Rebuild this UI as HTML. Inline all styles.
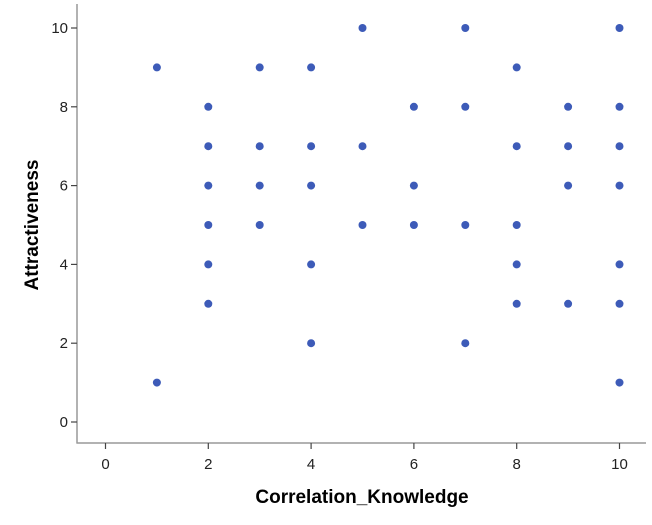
<!DOCTYPE html>
<html><head><meta charset="utf-8"><style>
body{margin:0;background:#fff;}
svg text{font-family:"Liberation Sans",sans-serif;}
</style></head><body>
<svg id="chart" width="652" height="520">
<g id="axes"></g><g id="pts"></g>
<text x="362" y="503" text-anchor="middle" font-size="19" font-weight="bold" fill="#000">Correlation_Knowledge</text>
<text transform="translate(38,225) rotate(-90)" text-anchor="middle" font-size="19" font-weight="bold" fill="#000">Attractiveness</text>
</svg>
<script>
const xValues=[1,1,2,2,2,2,2,2,3,3,3,3,4,4,4,4,4,5,5,5,6,6,6,7,7,7,7,8,8,8,8,8,9,9,9,9,10,10,10,10,10,10,10];
const yValues=[9,1,8,7,6,5,4,3,9,7,6,5,9,7,6,4,2,10,7,5,8,6,5,10,8,5,2,9,7,5,4,3,8,7,6,3,10,8,7,6,4,3,1];
const xTicks=[0,2,4,6,8,10];
const yTicks=[0,2,4,6,8,10];
const NS="http://www.w3.org/2000/svg";
const sx=v=>105.5+v*51.4;
const sy=v=>422-v*39.4;
const ax=document.getElementById('axes'),pg=document.getElementById('pts');
function mk(t,a,p){const e=document.createElementNS(NS,t);for(const k in a)e.setAttribute(k,a[k]);p.appendChild(e);return e;}
let l=mk('line',{x1:77,y1:4,x2:77,y2:443.5,stroke:'#999','stroke-width':1.5},ax);


l=mk('line',{x1:76.5,y1:443,x2:646,y2:443,stroke:'#999','stroke-width':1.5},ax);


xTicks.forEach(v=>{
 const t=mk('line',{x1:sx(v),y1:443,x2:sx(v),y2:449,stroke:'#444','stroke-width':1.2},ax);
 
 
 const tx=mk('text',{x:sx(v),y:469,'text-anchor':'middle','font-size':15,fill:'#222'},ax);
 tx.textContent=v;
 
 
});
yTicks.forEach(v=>{
 const t=mk('line',{x1:71,y1:sy(v),x2:77,y2:sy(v),stroke:'#444','stroke-width':1.2},ax);
 
 
 const tx=mk('text',{x:68,y:sy(v)+5,'text-anchor':'end','font-size':15,fill:'#222'},ax);
 tx.textContent=v;
 
 
});
xValues.forEach((x,i)=>{
 const c=mk('circle',{cx:sx(x),cy:sy(yValues[i]),r:4,fill:'#3d5bb8'},pg);
 
 
});
</script>
</body></html>
